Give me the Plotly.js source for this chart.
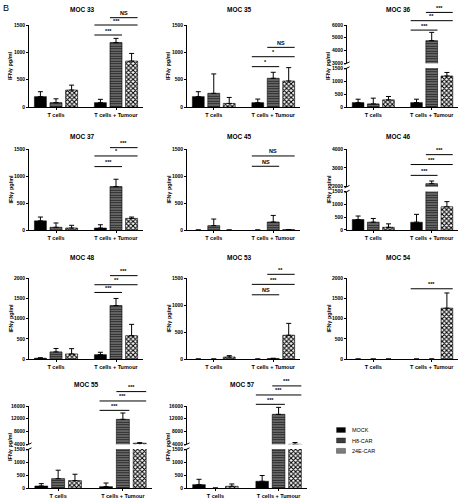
<!DOCTYPE html>
<html><head><meta charset="utf-8">
<script src="https://cdn.plot.ly/plotly-3.0.1.min.js"></script>
<style>html,body{margin:0;padding:0;background:#fff}</style>
</head><body><div id="chart" style="width:464px;height:500px"></div>
<script>
const categories = ['T cells', 'T cells + Tumour'];
const seriesNames = ['MOCK', 'H8-CAR', '24E-CAR'];
const panelTitles = ['MOC 33','MOC 35','MOC 36','MOC 37','MOC 45','MOC 46','MOC 48','MOC 53','MOC 54','MOC 55','MOC 57'];
const yTitle = 'IFNγ pg/ml';

// rows = series [MOCK, H8-CAR, 24E-CAR]; columns = categories
const MOC33_MEAN = [[190, 80], [80, 1180], [310, 840]];
const MOC33_ERR  = [[90, 60], [70, 75], [90, 140]];
const MOC35_MEAN = [[190, 80], [250, 525], [65, 475]];
const MOC35_ERR  = [[90, 65], [355, 110], [110, 245]];
const MOC36_MEAN = [[170, 170], [120, 4770], [275, 1195]];
const MOC36_ERR  = [[130, 130], [220, 650], [130, 135]];
const MOC37_MEAN = [[170, 37], [50, 805], [37, 215]];
const MOC37_ERR  = [[70, 60], [80, 135], [50, 25]];
const MOC45_MEAN = [[0, 0], [80, 148], [0, 6]];
const MOC45_ERR  = [[0, 0], [123, 122], [0, 0]];
const MOC46_MEAN = [[410, 305], [305, 2160], [105, 905]];
const MOC46_ERR  = [[135, 305], [145, 140], [135, 200]];
const MOC48_MEAN = [[20, 108], [175, 1320], [125, 575]];
const MOC48_ERR  = [[10, 58], [85, 175], [130, 280]];
const MOC53_MEAN = [[0, 0], [0, 8], [37, 440]];
const MOC53_ERR  = [[0, 0], [0, 6], [25, 220]];
const MOC54_MEAN = [[0, 0], [0, 0], [0, 1255]];
const MOC54_ERR  = [[0, 0], [0, 0], [0, 375]];
const MOC55_MEAN = [[78, 52], [360, 11800], [285, 4300]];
const MOC55_ERR  = [[90, 140], [325, 2000], [245, 150]];
const MOC57_MEAN = [[130, 260], [0, 13370], [65, 3950]];
const MOC57_ERR  = [[205, 220], [0, 2200], [90, 550]];

// significance brackets in the "T cells + Tumour" group: [series a, series b, level, label]
const MOC33_SIG = [[0,1,1317,'***'],[0,2,1500,'***'],[1,2,1634,'NS']];
const MOC35_SIG = [[0,1,738,'*'],[0,2,920,'*'],[1,2,1091,'NS']];
const MOC36_SIG = [[0,1,5600,'***'],[0,2,6340,'**'],[1,2,6990,'***']];
const MOC37_SIG = [[0,1,1174,'***'],[0,2,1371,'*'],[1,2,1525,'***']];
const MOC45_SIG = [[0,1,1180,'NS'],[0,2,1371,'NS']];
const MOC46_SIG = [[0,1,2600,'***'],[0,2,3175,'***'],[1,2,3700,'***']];
const MOC48_SIG = [[0,1,1643,'***'],[0,2,1834,'**'],[1,2,2058,'***']];
const MOC53_SIG = [[0,1,1189,'NS'],[0,2,1382,'***'],[1,2,1568,'**']];
const MOC54_SIG = [[0,2,1734,'***']];
const MOC55_SIG = [[0,1,14630,'***'],[0,2,17580,'***'],[1,2,20530,'***']];
const MOC57_SIG = [[0,1,16530,'***'],[0,2,19470,'***'],[1,2,22320,'***']];

const T1500 = [0, 500, 1000, 1500];
const T2000 = [0, 500, 1000, 1500, 2000];

const panels = [
  {title: panelTitles[0], mean: MOC33_MEAN, err: MOC33_ERR, sig: MOC33_SIG, row: 0, col: 0, ticks: T1500},
  {title: panelTitles[1], mean: MOC35_MEAN, err: MOC35_ERR, sig: MOC35_SIG, row: 0, col: 1, ticks: T1500},
  {title: panelTitles[2], mean: MOC36_MEAN, err: MOC36_ERR, sig: MOC36_SIG, row: 0, col: 2, ticks: T1500, upper: [3000, 4000, 5000, 6000]},
  {title: panelTitles[3], mean: MOC37_MEAN, err: MOC37_ERR, sig: MOC37_SIG, row: 1, col: 0, ticks: T1500},
  {title: panelTitles[4], mean: MOC45_MEAN, err: MOC45_ERR, sig: MOC45_SIG, row: 1, col: 1, ticks: T1500},
  {title: panelTitles[5], mean: MOC46_MEAN, err: MOC46_ERR, sig: MOC46_SIG, row: 1, col: 2, ticks: T1500, upper: [2000, 3000, 4000]},
  {title: panelTitles[6], mean: MOC48_MEAN, err: MOC48_ERR, sig: MOC48_SIG, row: 2, col: 0, ticks: T2000},
  {title: panelTitles[7], mean: MOC53_MEAN, err: MOC53_ERR, sig: MOC53_SIG, row: 2, col: 1, ticks: T1500},
  {title: panelTitles[8], mean: MOC54_MEAN, err: MOC54_ERR, sig: MOC54_SIG, row: 2, col: 2, ticks: T2000},
  {title: panelTitles[9], mean: MOC55_MEAN, err: MOC55_ERR, sig: MOC55_SIG, row: 3, col: 0, ticks: T1500, upper: [4000, 8000, 12000, 16000]},
  {title: panelTitles[10], mean: MOC57_MEAN, err: MOC57_ERR, sig: MOC57_SIG, row: 3, col: 1, ticks: T1500, upper: [4000, 8000, 12000, 16000]}
];

// ---------- layout geometry (pixels) ----------
const W = 464, H = 500;
const COLS = [[29, 143], [187, 300], [347, 458]];
const COLS_ROW4 = [[29, 152], [187, 307]];
const ROWS = [[25, 107], [149, 230], [278, 359], [406, 488]];
const TITLE_Y = [9, 136, 257, 384];
const XR = [-0.45, 1.45];
const BARGAP = 0.22, BARGROUPGAP = 0.23;
const FONT = 'Liberation Sans, Arial, sans-serif';
const INK = '#000';

function markerFor(si, means) {
  const lw = w => means.map(v => v === 0 ? 0 : w);
  if (si === 0) return {color: '#000', line: {color: '#000', width: lw(0.5)}};
  if (si === 1) return {color: '#6a6a6a', line: {color: '#000', width: lw(0.6)},
    pattern: {shape: '-', fgcolor: '#222', bgcolor: '#767676', size: 2.5, solidity: 0.45}};
  return {color: '#fff', line: {color: '#000', width: lw(0.6)},
    pattern: {shape: 'x', fgcolor: '#000', bgcolor: '#fff', size: 3.2, solidity: 0.55}};
}

const data = [], shapes = [], annotations = [];
const layout = {
  width: W, height: H, margin: {l: 0, r: 0, t: 0, b: 0},
  paper_bgcolor: '#fff', plot_bgcolor: '#fff',
  font: {family: FONT, color: INK},
  barmode: 'group', bargap: BARGAP, bargroupgap: BARGROUPGAP,
  showlegend: true,
  legend: {x: 330 / W, y: 1 - 422 / H, xanchor: 'left', yanchor: 'top',
    font: {size: 10, family: FONT, color: INK}, bgcolor: 'rgba(0,0,0,0)', borderwidth: 0,
    tracegroupgap: 0, itemwidth: 30},
  hovermode: false
};

let n = 0;
const px = v => v / W, py = v => 1 - v / H;

panels.forEach((p, pi) => {
  const xs = (p.row === 3 ? COLS_ROW4 : COLS)[p.col];
  const [top, bot] = ROWS[p.row];
  const hgt = bot - top;
  const segs = [];
  if (p.upper) {
    segs.push({range: [p.ticks[0], p.ticks[p.ticks.length - 1]], ticks: p.ticks, pix: [bot - 0.475 * hgt, bot], main: true});
    segs.push({range: [p.upper[0], p.upper[p.upper.length - 1]], ticks: p.upper, pix: [top, top + 0.465 * hgt], main: false});
  } else {
    segs.push({range: [p.ticks[0], p.ticks[p.ticks.length - 1]], ticks: p.ticks, pix: [top, bot], main: true});
  }
  segs.forEach(seg => {
    n++;
    const k = n === 1 ? '' : String(n);
    layout['xaxis' + k] = {
      domain: [px(xs[0]), px(xs[1])], anchor: 'y' + k, type: 'category', range: XR,
      categoryorder: 'array', categoryarray: categories,
      showline: seg.main, linecolor: INK, linewidth: 1,
      ticks: seg.main ? 'outside' : '', ticklen: 2, tickwidth: 1, tickcolor: INK,
      showticklabels: seg.main, tickfont: {size: 5.5, weight: 'bold', family: FONT, color: INK},
      showgrid: false, zeroline: false, fixedrange: true
    };
    layout['yaxis' + k] = {
      domain: [py(seg.pix[1]), py(seg.pix[0])], anchor: 'x' + k, range: seg.range,
      tickvals: seg.ticks, ticktext: seg.ticks.map(String),
      showline: true, linecolor: INK, linewidth: 1,
      ticks: 'outside', ticklen: 2, tickwidth: 1, tickcolor: INK,
      tickfont: {size: 5, weight: 'bold', family: FONT, color: INK},
      showgrid: false, zeroline: false, fixedrange: true
    };
    seriesNames.forEach((s, si) => {
      const errs = p.err[si].map((e, j) => (e === 0 && p.mean[si][j] === 0) ? NaN : e);
      data.push({
        type: 'bar', name: s, x: categories, y: p.mean[si],
        xaxis: 'x' + k, yaxis: 'y' + k, legendgroup: s,
        showlegend: pi === 0 && seg.main,
        marker: markerFor(si, pi === 0 ? [1, 1] : p.mean[si]),
        error_y: {type: 'data', symmetric: false, array: errs, arrayminus: [0, 0],
          color: INK, thickness: 1, width: 2.5}
      });
    });
  });

  // axis break marks
  if (p.upper) {
    [segs[0].pix[0], segs[1].pix[1]].forEach(yb => {
      shapes.push({type: 'line', xref: 'paper', yref: 'paper',
        x0: px(xs[0] - 2.5), x1: px(xs[0] + 2.5), y0: py(yb + 1.2), y1: py(yb - 1.2),
        line: {color: INK, width: 1}});
    });
  }

  // significance brackets
  const topSeg = segs[segs.length - 1];
  const xPix = v => xs[0] + (v - XR[0]) / (XR[1] - XR[0]) * (xs[1] - xs[0]);
  const yPix = v => topSeg.pix[1] - (v - topSeg.range[0]) / (topSeg.range[1] - topSeg.range[0]) * (topSeg.pix[1] - topSeg.pix[0]);
  const slot = (1 - BARGAP) / 3;
  const barW = slot * (1 - BARGROUPGAP);
  p.sig.forEach(([a, b, level, label]) => {
    const ca = 1 + (a - 1) * slot, cb = 1 + (b - 1) * slot;
    const xa = xPix(ca - barW / 2), xb = xPix(cb + barW / 2);
    const yl = yPix(level);
    shapes.push({type: 'line', xref: 'paper', yref: 'paper', x0: px(xa), x1: px(xb), y0: py(yl), y1: py(yl),
      line: {color: INK, width: 1}});
    annotations.push({xref: 'paper', yref: 'paper', x: px((xa + xb) / 2), y: py(yl - 0.5),
      text: label, showarrow: false, xanchor: 'center', yanchor: 'bottom', borderpad: 0,
      font: {size: 5.5, weight: 'bold', family: FONT, color: INK}});
  });

  // panel title
  annotations.push({xref: 'paper', yref: 'paper', x: px((xs[0] + xs[1]) / 2 - 4), y: py(TITLE_Y[p.row]),
    text: p.title, showarrow: false, xanchor: 'center', yanchor: 'middle',
    font: {size: 6.5, weight: 'bold', family: FONT, color: INK}});
  // y-axis title
  annotations.push({xref: 'paper', yref: 'paper', x: px(xs[0] - 19), y: py((top + bot) / 2),
    text: yTitle, showarrow: false, textangle: -90, xanchor: 'center', yanchor: 'middle',
    font: {size: 5.5, weight: 'bold', family: FONT, color: INK}});
});

annotations.push({xref: 'paper', yref: 'paper', x: px(1), y: py(1), text: 'B', showarrow: false,
  xanchor: 'left', yanchor: 'top', font: {size: 9, family: FONT, color: INK}});

layout.shapes = shapes;
layout.annotations = annotations;

Plotly.newPlot('chart', data, layout, {staticPlot: true, displayModeBar: false}).then(() => {
  // compact legend, like the original figure
  const lg = document.querySelector('#chart .legend');
  if (lg) lg.setAttribute('transform', (lg.getAttribute('transform') || '') + ' scale(0.55)');
  document.querySelectorAll('#chart .legend .legendpoints path').forEach(pth => {
    pth.setAttribute('transform', (pth.getAttribute('transform') || '') + ' scale(1.35,0.75)');
  });
});
</script>
</body></html>
